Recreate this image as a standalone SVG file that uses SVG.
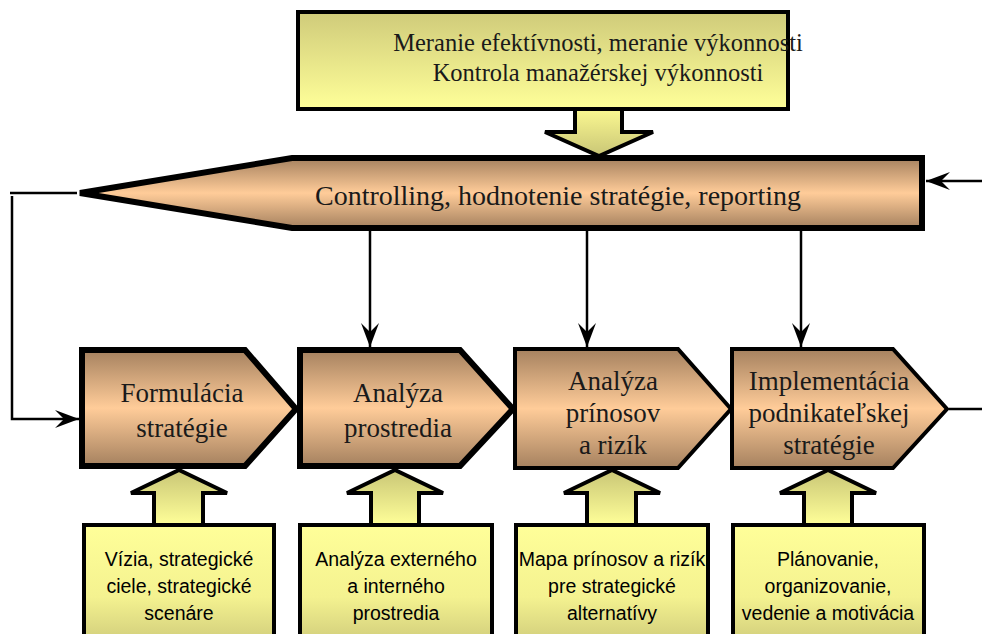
<svg xmlns="http://www.w3.org/2000/svg" width="982" height="634" viewBox="0 0 982 634">
<defs>
<linearGradient id="tan" x1="0" y1="0" x2="0" y2="1">
<stop offset="0" stop-color="#a5815f"/>
<stop offset="0.5" stop-color="#ffcc99"/>
<stop offset="1" stop-color="#a5815f"/>
</linearGradient>
<linearGradient id="yelDown" x1="0" y1="0" x2="0" y2="1">
<stop offset="0" stop-color="#cfcb7a"/>
<stop offset="1" stop-color="#ffff99"/>
</linearGradient>
<linearGradient id="arrDown" x1="0" y1="0" x2="0" y2="1">
<stop offset="0" stop-color="#fbf891"/>
<stop offset="1" stop-color="#c9c676"/>
</linearGradient>
<linearGradient id="yelUp" x1="0" y1="0" x2="0" y2="1">
<stop offset="0" stop-color="#c9c676"/>
<stop offset="1" stop-color="#ffff99"/>
</linearGradient>
<linearGradient id="yelBox" x1="0" y1="0" x2="0" y2="1">
<stop offset="0" stop-color="#ffff99"/>
<stop offset="0.6" stop-color="#f4f290"/>
<stop offset="1" stop-color="#cfcb7a"/>
</linearGradient>
<marker id="ah" markerUnits="userSpaceOnUse" markerWidth="30" markerHeight="24" viewBox="-26 -12 30 24" refX="0" refY="0" orient="auto">
<path d="M0,0 L-24,-9 L-15,0 L-24,9 Z" fill="#000"/>
</marker>
</defs>
<style>
.serif{font-family:"Liberation Serif","DejaVu Serif",serif;fill:#1a1a1a;text-anchor:middle}
.row{font-size:27px}
.sans{font-family:"Liberation Sans",Arial,sans-serif;fill:#000;text-anchor:middle;font-size:19.5px}
.thick{stroke:#000;stroke-width:6;stroke-linejoin:miter}
.med{stroke:#000;stroke-width:4;stroke-linejoin:miter}
.conn{fill:none;stroke:#000;stroke-width:2.5}
</style>

<g id="top-box">
<rect x="298" y="12" width="490" height="97" fill="url(#yelDown)" class="med"/>
<text class="serif" x="598" y="51" font-size="24.5">Meranie efektívnosti, meranie výkonnosti</text>
<text class="serif" x="598" y="81" font-size="24.5">Kontrola manažérskej výkonnosti</text>
</g>
<g id="top-arrow">
<path d="M575,109 L622,109 L622,132 L653,132 L599,156 L545,132 L575,132 Z" fill="url(#arrDown)" class="med"/>
</g>

<g id="controlling">
<path d="M292,158 L922,158 L922,228 L292,228 L80,193 Z" fill="url(#tan)" class="thick"/>
<text class="serif" x="558" y="205" font-size="28">Controlling, hodnotenie stratégie, reporting</text>
</g>

<g id="formulacia">
<path d="M82,350 L245,350 L296,409 L245,466 L82,466 Z" fill="url(#tan)" class="thick"/>
<text class="serif row" x="182" y="402">Formulácia</text>
<text class="serif row" x="182" y="437">stratégie</text>
</g>
<g id="analyza-prostredia">
<path d="M300,350 L460,350 L513,409 L460,466 L300,466 Z" fill="url(#tan)" class="thick"/>
<text class="serif row" x="398" y="402">Analýza</text>
<text class="serif row" x="398" y="437">prostredia</text>
</g>
<g id="analyza-prinosov">
<path d="M515,349 L678,349 L731,409 L678,468 L515,468 Z" fill="url(#tan)" class="med"/>
<text class="serif row" x="613" y="390">Analýza</text>
<text class="serif row" x="613" y="422">prínosov</text>
<text class="serif row" x="613" y="454">a rizík</text>
</g>
<g id="implementacia">
<path d="M732,349 L893,349 L947,409 L893,468 L732,468 Z" fill="url(#tan)" class="med"/>
<text class="serif row" x="829" y="390">Implementácia</text>
<text class="serif row" x="829" y="422">podnikateľskej</text>
<text class="serif row" x="829" y="454">stratégie</text>
</g>

<g id="up-arrows">
<path d="M154,525 L203,525 L203,493 L227,493 L179,470 L131,493 L154,493 Z" fill="url(#yelUp)" class="med"/>
<path d="M371,525 L419,525 L419,493 L443,493 L395,470 L347,493 L371,493 Z" fill="url(#yelUp)" class="med"/>
<path d="M587,525 L636,525 L636,493 L660,493 L612,470 L564,493 L587,493 Z" fill="url(#yelUp)" class="med"/>
<path d="M804,525 L852,525 L852,493 L876,493 L828,470 L780,493 L804,493 Z" fill="url(#yelUp)" class="med"/>
</g>

<g id="box-vizia">
<rect x="84" y="525" width="190" height="120" fill="url(#yelBox)" class="med"/>
<text class="sans" x="179" y="566">Vízia, strategické</text>
<text class="sans" x="179" y="593">ciele, strategické</text>
<text class="sans" x="179" y="620">scenáre</text>
</g>
<g id="box-analyza">
<rect x="300" y="525" width="192" height="120" fill="url(#yelBox)" class="med"/>
<text class="sans" x="396" y="566">Analýza externého</text>
<text class="sans" x="396" y="593">a interného</text>
<text class="sans" x="396" y="620">prostredia</text>
</g>
<g id="box-mapa">
<rect x="516" y="525" width="192" height="120" fill="url(#yelBox)" class="med"/>
<text class="sans" x="612" y="566">Mapa prínosov a rizík</text>
<text class="sans" x="612" y="593">pre strategické</text>
<text class="sans" x="612" y="620">alternatívy</text>
</g>
<g id="box-planovanie">
<rect x="733" y="525" width="191" height="120" fill="url(#yelBox)" class="med"/>
<text class="sans" x="828" y="566">Plánovanie,</text>
<text class="sans" x="828" y="593">organizovanie,</text>
<text class="sans" x="828" y="620">vedenie a motivácia</text>
</g>

<g id="connectors">
<polyline class="conn" points="77,193 10,193"/>
<polyline class="conn" points="12,196 12,419 79,419" marker-end="url(#ah)"/>
<line class="conn" x1="982" y1="181" x2="926" y2="181" marker-end="url(#ah)"/>
<line class="conn" x1="370" y1="231" x2="370" y2="347" marker-end="url(#ah)"/>
<line class="conn" x1="587" y1="231" x2="587" y2="347" marker-end="url(#ah)"/>
<line class="conn" x1="801" y1="231" x2="801" y2="347" marker-end="url(#ah)"/>
<line class="conn" x1="949" y1="409" x2="982" y2="409"/>
</g>
</svg>
